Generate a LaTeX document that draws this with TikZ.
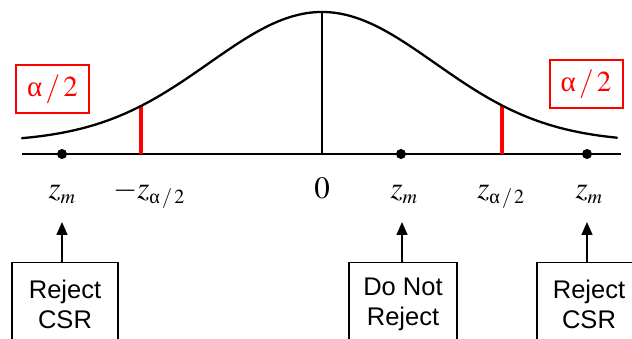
\documentclass[tikz,border=0pt]{standalone}
\usepackage{mathptmx}
\usepackage{amsmath}
\usepackage[no-math]{fontspec}
\setmainfont{Liberation Serif}
\setsansfont{Liberation Sans}
\usetikzlibrary{arrows.meta}
\DeclareMathSizes{31}{31}{20}{15}
\newcommand{\upa}{\text{α}}
\begin{document}
\begin{tikzpicture}[x=1pt,y=-1pt,
  mathlbl/.style={font=\fontsize{31}{36}\selectfont, inner sep=0pt, anchor=base},
  redbox/.style={draw=red, line width=2pt, text=red, minimum width=73pt, minimum height=48pt, inner sep=0pt, font=\fontsize{29}{34}\selectfont},
  decbox/.style={draw=black, line width=1.4pt, align=center, anchor=north, minimum height=84pt, inner sep=0pt, font=\sffamily\fontsize{25.5}{30}\selectfont},
  dotnode/.style={circle, fill=black, inner sep=0pt, minimum size=10pt},
  uparrow/.style={line width=1.5pt, -{Triangle[width=11pt,length=13pt]}},
  crit/.style={red, line width=3.8pt}
]
\useasboundingbox (0,0) rectangle (632,339);
\clip (0,0) rectangle (632,339);
% axis
\coordinate (axL) at (22,154);
\coordinate (axR) at (621,154);
\draw[line width=1.8pt] (axL) -- (axR);
% center line
\coordinate (top) at (322,12);
\coordinate (zero) at (322,154);
\draw[line width=1.2pt] (zero) -- (top);
% critical lines
\coordinate (c1b) at (141,154);
\coordinate (c1t) at (141,106);
\coordinate (c2b) at (502,154);
\coordinate (c2t) at (502,105.5);
\draw[crit] (c1b) -- (c1t);
\draw[crit] (c2b) -- (c2t);
% curve
\draw[line width=2.3pt, line cap=round] plot[domain=-300:295, samples=160, smooth]
  (\x+322, {142-130*exp(-0.5*(\x/113)^2)});
% dots
\node[dotnode] (d1) at (62,154) {};
\node[dotnode] (d2) at (401,154) {};
\node[dotnode] (d3) at (587,154) {};
% labels
\node[mathlbl] (l1) at (62,199) {$z_m$};
\node[mathlbl] (l2) at (149,199) {$-z_{\upa\,/\,2}$};
\node[mathlbl] (l0) at (322,199) {$0$};
\node[mathlbl] (l3) at (404,199) {$z_m$};
\node[mathlbl] (l4) at (501,199) {$z_{\upa\,/\,2}$};
\node[mathlbl] (l5) at (589,199) {$z_m$};
% red boxes
\node[redbox] (a1) at (52.5,89.5) {$\upa\,/\,2$};
\node[redbox] (a2) at (586,84) {$\upa\,/\,2$};
% decision boxes
\node[decbox, minimum width=106pt] (b1) at (65,262) {Reject\\CSR};
\node[decbox, minimum width=108pt] (b2) at (403,262) {Do Not\\Reject};
\node[decbox, minimum width=104pt] (b3) at (589,262) {Reject\\CSR};
% arrow tips
\coordinate (t1) at (62,222);
\coordinate (t2) at (402,222);
\coordinate (t3) at (587,222);
\draw[uparrow] (b1.north -| t1) -- (t1);
\draw[uparrow] (b2.north -| t2) -- (t2);
\draw[uparrow] (b3.north -| t3) -- (t3);
\end{tikzpicture}
\end{document}
